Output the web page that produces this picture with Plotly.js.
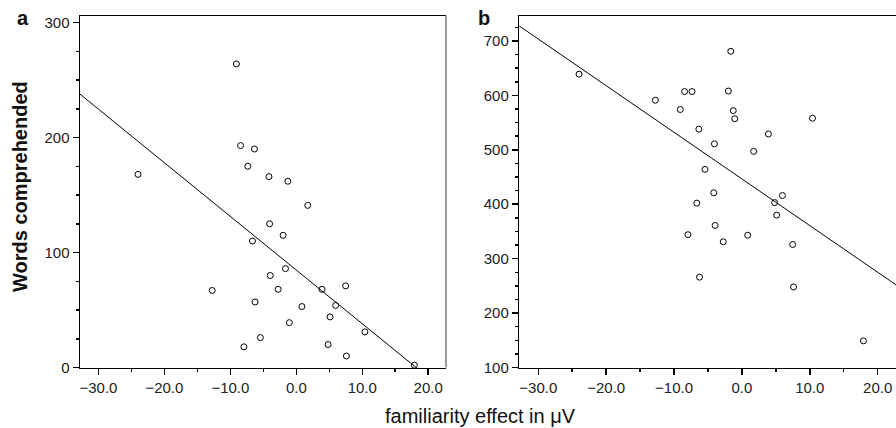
<!DOCTYPE html>
<html>
<head>
<meta charset="utf-8">
<script src="https://cdn.plot.ly/plotly-3.0.1.min.js"></script>
<style>html,body{margin:0;padding:0;background:#fff;}#chart{width:896px;height:428px;}</style>
</head>
<body>
<div id="chart"></div>
<script>
// familiarity effect (µV), shared by both panels (one value per participant)
const familiarity = [-24.0, -12.75, -9.08, -8.45, -7.95, -7.35, -6.65, -6.35, -6.25, -5.45, -4.15, -4.05, -3.95, -2.75, -2.0, -1.64, -1.28, -1.05, 0.85, 1.73, 3.9, 4.82, 5.12, 5.97, 7.48, 7.6, 10.4, 17.9];
// panel a: words comprehended
const wordsA = [168, 67, 264, 193, 18, 175, 110, 190, 57, 26, 166, 125, 80, 68, 115, 86, 162, 39, 53, 141, 68, 20, 44, 54, 71, 10, 31, 2];
// panel b
const wordsB = [639, 591, 574, 607, 344, 607, 402, 538, 266, 464, 421, 511, 361, 331, 608, 681, 572, 557, 343, 497, 529, 403, 380, 416, 326, 248, 558, 149];
const panelLabels = ["a", "b"];
const xTitle = "familiarity effect in μV";
const yTitle = "Words comprehended";

function ols(x, y) {
  const n = x.length;
  let mx = 0, my = 0;
  for (let i = 0; i < n; i++) { mx += x[i]; my += y[i]; }
  mx /= n; my /= n;
  let sxy = 0, sxx = 0;
  for (let i = 0; i < n; i++) { sxy += (x[i]-mx)*(y[i]-my); sxx += (x[i]-mx)*(x[i]-mx); }
  const slope = sxy / sxx;
  return {slope: slope, intercept: my - slope*mx};
}

const xRange = [-32.8, 22.7];
const fitA = ols(familiarity, wordsA);
const fitB = ols(familiarity, wordsB);
const lineX = xRange.slice();

const W = 896, H = 428;
const FONT = "Liberation Sans, Arial, Helvetica, sans-serif";

const markerStyle = {symbol: "circle-open", size: 6, color: "#000", line: {width: 1, color: "#000"}};

const traces = [
  {x: lineX, y: lineX.map(v => fitA.intercept + fitA.slope*v), xaxis: "x", yaxis: "y", mode: "lines", line: {color: "#000", width: 1}, hoverinfo: "skip"},
  {x: familiarity, y: wordsA, xaxis: "x", yaxis: "y", mode: "markers", marker: markerStyle, cliponaxis: false},
  {x: lineX, y: lineX.map(v => fitB.intercept + fitB.slope*v), xaxis: "x2", yaxis: "y2", mode: "lines", line: {color: "#000", width: 1}, hoverinfo: "skip"},
  {x: familiarity, y: wordsB, xaxis: "x2", yaxis: "y2", mode: "markers", marker: markerStyle, cliponaxis: false}
];

function xAxis(domain, anchor) {
  return {
    domain: domain, anchor: anchor, range: xRange, dtick: 10, tick0: 0, tickformat: ".1f",
    showgrid: false, zeroline: false, showline: true, linecolor: "#000", linewidth: 1.5, mirror: true,
    ticks: "outside", ticklen: 6, tickwidth: 1.5, tickcolor: "#000",
    minor: {dtick: 5, ticks: "outside", ticklen: 3, tickwidth: 1.5, tickcolor: "#000"},
    tickfont: {family: FONT, size: 15, color: "#222"}
  };
}
function yAxis(range, anchor) {
  return {
    domain: [60.5/H, 412/H], anchor: anchor, range: range, dtick: 100, tick0: 0,
    showgrid: false, zeroline: false, showline: true, linecolor: "#000", linewidth: 1.5,
    ticks: "outside", ticklen: 6, tickwidth: 1.5, tickcolor: "#000",
    minor: {dtick: 25, ticks: "outside", ticklen: 3, tickwidth: 1.5, tickcolor: "#000"},
    tickfont: {family: FONT, size: 15, color: "#222"}
  };
}

const layout = {
  width: W, height: H, margin: {l: 0, r: 0, t: 0, b: 0},
  paper_bgcolor: "#fff", plot_bgcolor: "#fff", showlegend: false,
  xaxis: xAxis([80/W, 446/W], "y"),
  yaxis: yAxis([0, 305.7], "x"),
  xaxis2: xAxis([519.3/W, 1.0], "y2"),
  yaxis2: yAxis([100, 745.8], "x2"),
  shapes: [
    {type: "line", xref: "x domain", yref: "y domain", x0: 1, x1: 1, y0: 0, y1: 1, line: {color: "#777", width: 1.5}}
  ],
  annotations: [
    {text: "<b>" + panelLabels[0] + "</b>", xref: "paper", yref: "paper", x: 15/W, y: 1 - 18/H, xanchor: "left", yanchor: "middle", showarrow: false, font: {family: FONT, size: 20, color: "#111"}},
    {text: "<b>" + panelLabels[1] + "</b>", xref: "paper", yref: "paper", x: 476/W, y: 1 - 18/H, xanchor: "left", yanchor: "middle", showarrow: false, font: {family: FONT, size: 20, color: "#111"}},
    {text: xTitle, xref: "paper", yref: "paper", x: 481/W, y: 1 - 416/H, xanchor: "center", yanchor: "middle", showarrow: false, font: {family: FONT, size: 20, color: "#111"}},
    {text: "<b>" + yTitle + "</b>", xref: "paper", yref: "paper", x: 20/W, y: 1 - 187/H, xanchor: "center", yanchor: "middle", textangle: -90, showarrow: false, font: {family: FONT, size: 20, color: "#111"}}
  ]
};

Plotly.newPlot("chart", traces, layout, {staticPlot: true, displayModeBar: false});
</script>
</body>
</html>
